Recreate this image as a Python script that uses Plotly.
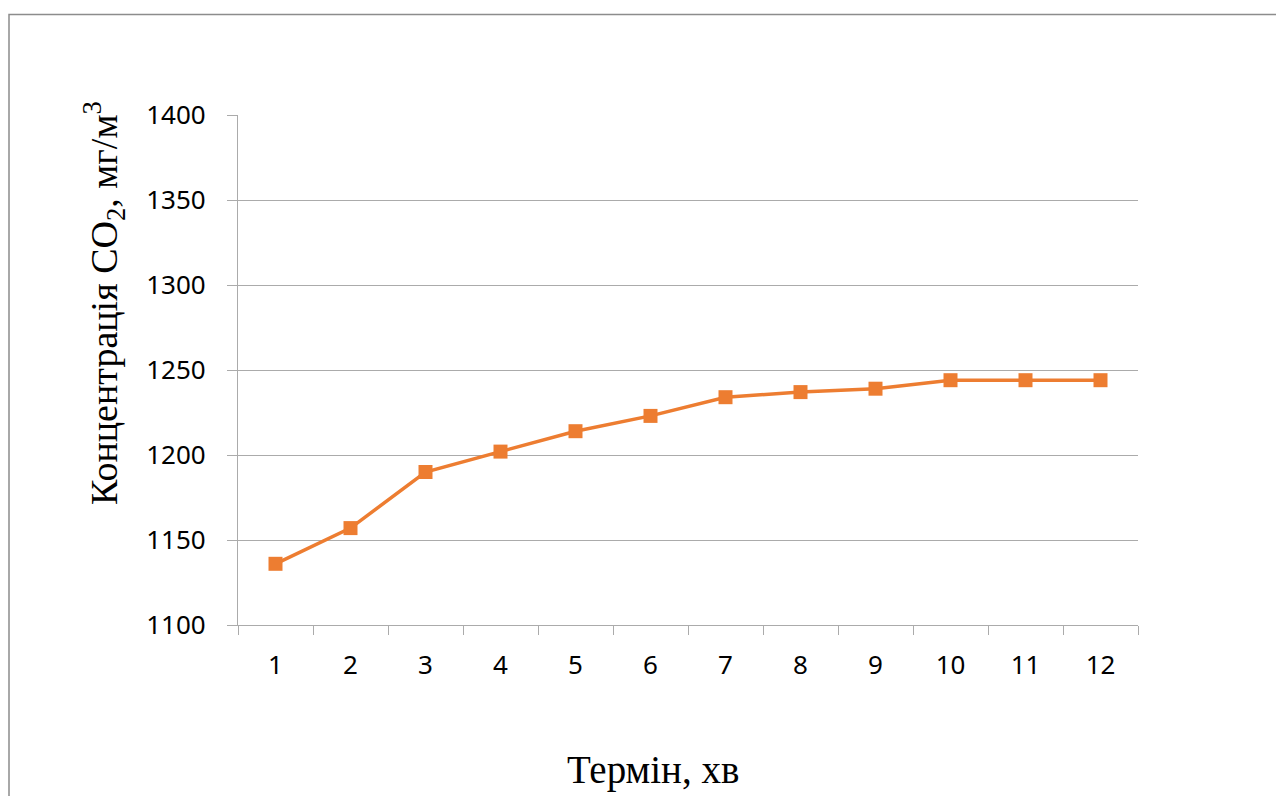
import plotly.graph_objects as go

# Measurement schedule and CO2 concentration readings
minutes = ["1", "2", "3", "4", "5", "6", "7", "8", "9", "10", "11", "12"]
co2_mg_m3 = [1136, 1157, 1190, 1202, 1214, 1223, 1234, 1237, 1239, 1244, 1244, 1244]
y_ticks = [1100, 1150, 1200, 1250, 1300, 1350, 1400]

W, H = 1276, 796
L, R, T, B = 238, 138, 115, 171
pw, ph = W - L - R, H - T - B

orange = "#ED7D31"
grid = "#ABABAB"

fig = go.Figure(
    go.Scatter(
        x=minutes,
        y=co2_mg_m3,
        mode="lines+markers",
        line=dict(color=orange, width=3.5),
        marker=dict(symbol="square", size=14, color=orange),
        showlegend=False,
        hoverinfo="x+y",
    )
)

tick_font = dict(family="Noto Sans, Open Sans, sans-serif", size=26, color="#000000")

fig.update_xaxes(
    type="category",
    range=[-0.5, len(minutes) - 0.5],
    tickson="boundaries",
    ticks="outside",
    ticklen=9,
    tickwidth=1.3,
    tickcolor=grid,
    showline=True,
    linecolor=grid,
    linewidth=1.3,
    showgrid=False,
    tickfont=tick_font,
    ticklabelstandoff=17,
)
fig.update_yaxes(
    range=[1100, 1400],
    tickvals=y_ticks,
    ticks="outside",
    ticklen=10,
    tickwidth=1.3,
    tickcolor=grid,
    showline=True,
    linecolor=grid,
    linewidth=1.3,
    showgrid=True,
    gridcolor=grid,
    gridwidth=1.3,
    zeroline=False,
    tickfont=tick_font,
    ticklabelstandoff=16,
)

title_font = dict(family="Liberation Serif, Times New Roman, serif", size=38, color="#000000")

# Axis titles placed as annotations in pixel-derived paper coordinates
fig.add_annotation(
    text="Термін, хв",
    x=(653 - L) / pw, y=-(770 - (T + ph)) / ph,
    xref="paper", yref="paper",
    showarrow=False, font=dict(title_font, size=39),
    xanchor="center", yanchor="middle",
)
fig.add_annotation(
    text="Концентрація CO<sub>2</sub>, мг/м<sup>3</sup>",
    x=(104 - L) / pw, y=1 - (303 - T) / ph,
    xref="paper", yref="paper",
    showarrow=False, font=title_font, textangle=-90,
    xanchor="center", yanchor="middle",
)

# Chart-area frame
fig.add_shape(
    type="rect",
    xref="paper", yref="paper",
    x0=(9 - L) / pw, x1=(1300 - L) / pw,
    y0=-(830 - (T + ph)) / ph, y1=1 + (T - 14.5) / ph,
    line=dict(color="#8C8C8C", width=1.5),
    fillcolor="rgba(0,0,0,0)",
    layer="below",
)

fig.update_layout(
    width=W, height=H,
    margin=dict(l=L, r=R, t=T, b=B, autoexpand=False),
    paper_bgcolor="white",
    plot_bgcolor="white",
)

fig.write_html("out.html")
